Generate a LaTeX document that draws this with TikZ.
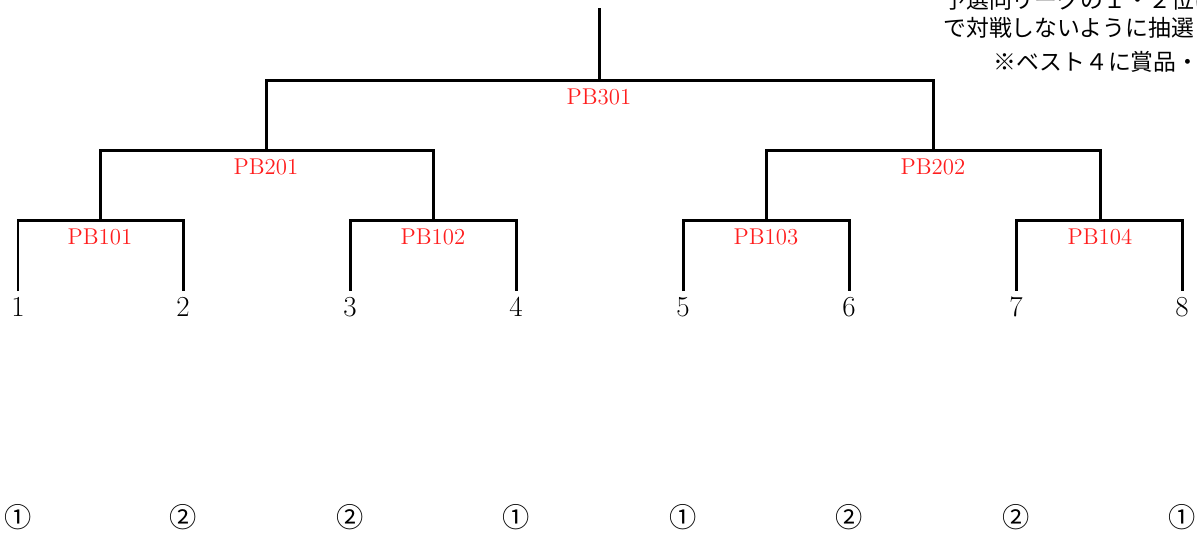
\documentclass[tikz,border=0pt]{standalone}
\usepackage{fontspec}
\newfontfamily\jpfont{Noto Sans CJK JP}
\usetikzlibrary{positioning}
\definecolor{pbred}{RGB}{255,30,30}

\tikzset{
  bracket/.style={line width=0.06cm},
  pblabel/.style={text=pbred,inner sep=0pt,font=\fontsize{13}{15}\selectfont},
  seed/.style={font=\fontsize{16.5}{18}\selectfont},
  slot/.style={font=\jpfont\fontsize{15.5}{17}\selectfont},
  note/.style={anchor=west,inner sep=0pt,font=\jpfont\fontsize{13}{15}\selectfont}
}

\begin{document}
\begin{tikzpicture}[x=0.02cm,y=-0.02cm]
 \useasboundingbox (0,0) rectangle (1197,532);

    % seeds
    \node[seed] (n1) at (18,307) {1};
    \node[seed] (n2) at (183,307) {2};
    \node[seed] (n3) at (350,307) {3};
    \node[seed] (n4) at (516,307) {4};
    \node[seed] (n5) at (683,307) {5};
    \node[seed] (n6) at (849,307) {6};
    \node[seed] (n7) at (1016,307) {7};
    \node[seed] (n8) at (1182,307) {8};

    % slots
    \node[slot] (c1) at (18,517) {①};
    \node[slot] (c2) at (183,517) {②};
    \node[slot] (c3) at (350,517) {②};
    \node[slot] (c4) at (516,517) {①};
    \node[slot] (c5) at (683,517) {①};
    \node[slot] (c6) at (849,517) {②};
    \node[slot] (c7) at (1016,517) {②};
    \node[slot] (c8) at (1182,517) {①};

    % junctions
    \coordinate (j101) at (100,220);
    \coordinate (j102) at (433,220);
    \coordinate (j103) at (766,220);
    \coordinate (j104) at (1100,220);
    \coordinate (j201) at (266,150);
    \coordinate (j202) at (933,150);
    \coordinate (j301) at (599,80);
    \coordinate (top) at (599,8);

    % draw bracket
    \draw[bracket] (n1.north) |- (j101) -| (n2.north);
    \draw[bracket] (n3.north) |- (j102) -| (n4.north);
    \draw[bracket] (n5.north) |- (j103) -| (n6.north);
    \draw[bracket] (n7.north) |- (j104) -| (n8.north);
    \draw[bracket] (j101) |- (j201) -| (j102);
    \draw[bracket] (j103) |- (j202) -| (j104);
    \draw[bracket] (j201) |- (j301) -| (j202);
    \draw[bracket] (j301) -- (top);

    % match numbers
    \node[pblabel,below=0.17cm of j101] (pb101) {PB101};
    \node[pblabel,below=0.17cm of j102] (pb102) {PB102};
    \node[pblabel,below=0.17cm of j103] (pb103) {PB103};
    \node[pblabel,below=0.17cm of j104] (pb104) {PB104};
    \node[pblabel,below=0.17cm of j201] (pb201) {PB201};
    \node[pblabel,below=0.17cm of j202] (pb202) {PB202};
    \node[pblabel,below=0.17cm of j301] (pb301) {PB301};

    % notes
    \node[note] (note1) at (943,0) {予選同リーグの１・２位は決};
    \node[note] (note2) at (943,28) {で対戦しないように抽選};
    \node[note] (note3) at (993,62) {※ベスト４に賞品・};

\end{tikzpicture}
\end{document}
